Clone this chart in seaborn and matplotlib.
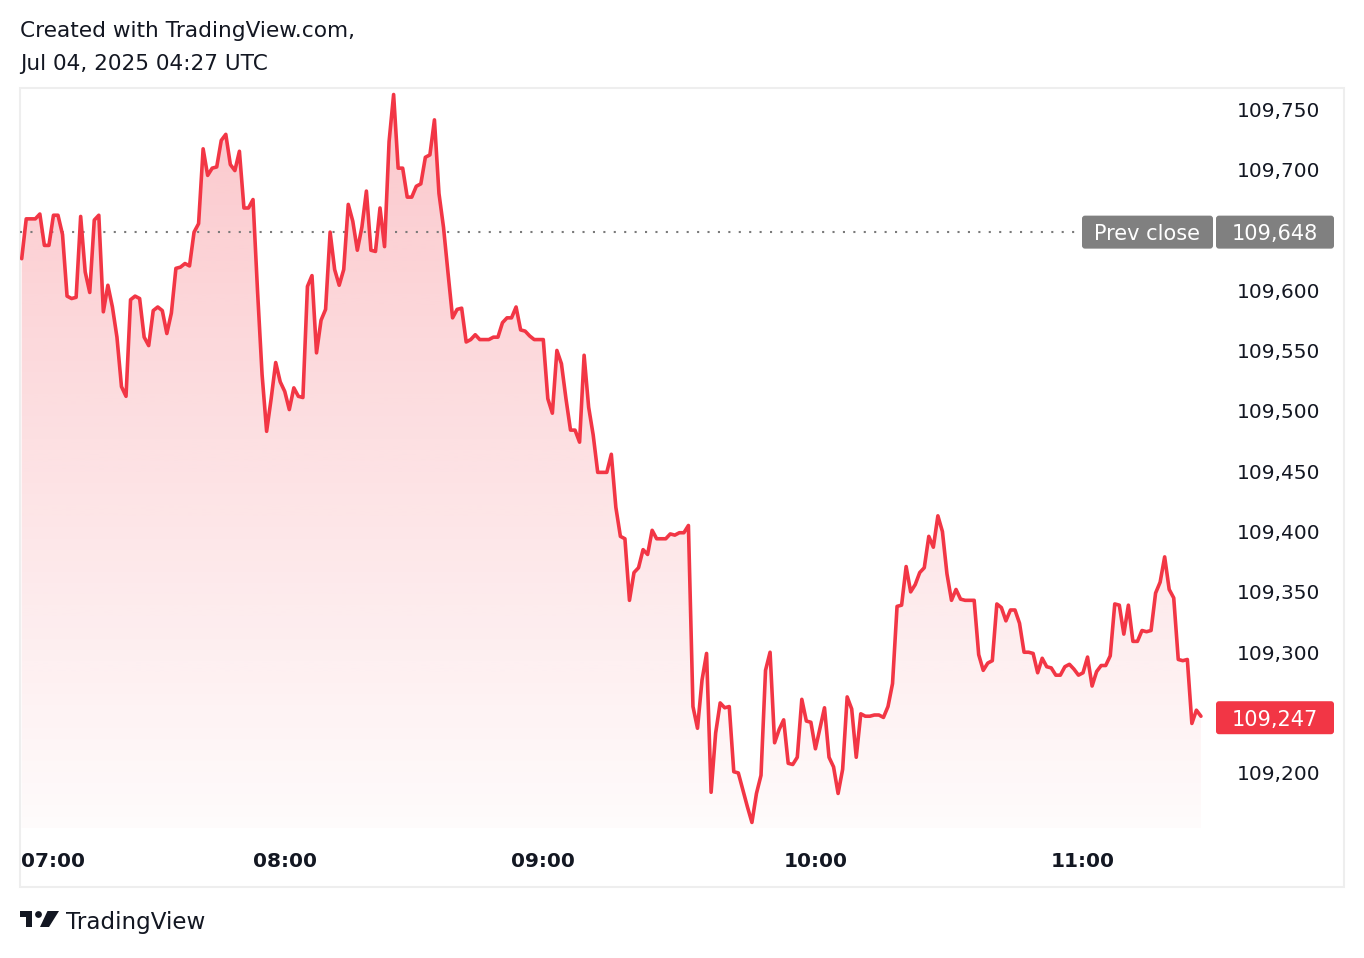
import numpy as np
import pandas as pd
import matplotlib
matplotlib.use("Agg")
import matplotlib.pyplot as plt
import seaborn as sns
from matplotlib.patches import FancyBboxPatch, Rectangle, Polygon, Circle
from matplotlib.transforms import IdentityTransform
from matplotlib.colors import to_rgb

# ---------------- data (1-minute closes) ----------------
prices = [
    109626, 109659, 109659, 109659, 109663, 109637, 109637, 109662, 109662, 109646,
    109595, 109593, 109594, 109661, 109615, 109598, 109658, 109662, 109582, 109604,
    109586, 109561, 109520, 109512, 109592, 109595, 109593, 109561, 109554, 109583,
    109586, 109583, 109564, 109581, 109618, 109619, 109622, 109620, 109648, 109655,
    109717, 109695, 109701, 109702, 109724, 109729, 109704, 109699, 109715, 109668,
    109668, 109675, 109599, 109530, 109483, 109510, 109540, 109524, 109516, 109501,
    109519, 109512, 109511, 109603, 109612, 109548, 109575, 109584, 109648, 109617,
    109604, 109617, 109671, 109657, 109633, 109652, 109682, 109633, 109632, 109668,
    109636, 109723, 109762, 109701, 109701, 109677, 109677, 109686, 109688, 109710,
    109712, 109741, 109680, 109652, 109614, 109577, 109584, 109585, 109557, 109559,
    109563, 109559, 109559, 109559, 109561, 109561, 109573, 109577, 109577, 109586,
    109567, 109566, 109562, 109559, 109559, 109559, 109510, 109498, 109550, 109539,
    109510, 109484, 109484, 109474, 109546, 109503, 109480, 109449, 109449, 109449,
    109464, 109420, 109396, 109394, 109343, 109366, 109370, 109385, 109381, 109401,
    109394, 109394, 109394, 109398, 109397, 109399, 109399, 109405, 109255, 109237,
    109277, 109299, 109184, 109233, 109258, 109254, 109255, 109201, 109200, 109186,
    109172, 109159, 109183, 109198, 109285, 109300, 109225, 109236, 109244, 109208,
    109207, 109213, 109261, 109243, 109242, 109220, 109237, 109254, 109213, 109205,
    109183, 109203, 109263, 109253, 109213, 109249, 109247, 109247, 109248, 109248,
    109246, 109255, 109274, 109338, 109339, 109371, 109350, 109356, 109366, 109370,
    109396, 109387, 109413, 109400, 109365, 109343, 109352, 109344, 109343, 109343,
    109343, 109298, 109285, 109291, 109293, 109340, 109337, 109326, 109335, 109335,
    109324, 109300, 109300, 109299, 109283, 109295, 109288, 109287, 109281, 109281,
    109288, 109290, 109286, 109281, 109283, 109296, 109272, 109284, 109289, 109289,
    109297, 109340, 109339, 109315, 109339, 109309, 109309, 109318, 109317, 109318,
    109349, 109358, 109379, 109352, 109345, 109294, 109293, 109294, 109241, 109252,
    109247,
]
time_labels = ["07:00", "08:00", "09:00", "10:00", "11:00"]
time_label_bars = [7, 58, 115, 175, 234]
price_ticks = [109200, 109300, 109350, 109400, 109450, 109500, 109550,
               109600, 109700, 109750]
prev_close = 109648
last_price = 109247
title_lines = ["Created with TradingView.com,", "Jul 04, 2025 04:27 UTC"]
prev_close_text = "Prev close"
brand_text = "TradingView"

# ---------------- styling ----------------
RED = "#F23645"
GRAY_LABEL = "#808080"
DOT_GRAY = "#7A7A7A"
TEXT = "#131722"
W, H = 1364, 958

sns.set_style("white")
plt.rcParams["font.family"] = ["DejaVu Sans"]

fig = plt.figure(figsize=(W / 100, H / 100), dpi=100)
fig.patch.set_facecolor("white")


def fx(px):
    return px / W


def fy(py):
    return 1 - py / H


# plot pane (without the price scale)
ax = fig.add_axes([fx(20), fy(828), fx(1215) - fx(20), fy(88) - fy(828)])
ax.set_facecolor("none")

df = pd.DataFrame({"bar": np.arange(len(prices)), "price": prices})

XMIN, XMAX = -0.375, 263.1
YMIN, YMAX = 109154.4, 109767.4

# gradient area fill under the line
rgb = to_rgb(RED)
grad = np.zeros((256, 1, 4))
grad[:, 0, 0], grad[:, 0, 1], grad[:, 0, 2] = rgb
grad[:, 0, 3] = np.linspace(0.28, 0.02, 256)
im = ax.imshow(grad, extent=[XMIN, XMAX, YMIN, YMAX], origin="upper",
               aspect="auto", zorder=1, interpolation="bilinear")
poly = ax.fill_between(df["bar"], df["price"], YMIN, facecolor="none",
                       edgecolor="none", zorder=1)
im.set_clip_path(poly.get_paths()[0], transform=ax.transData)

# previous close dotted line
ax.axhline(prev_close, color=DOT_GRAY, lw=1.5, linestyle=(0, (1, 4)), zorder=2)

# price line
sns.lineplot(data=df, x="bar", y="price", color=RED, linewidth=2.6, ax=ax,
             zorder=3)
for ln in ax.lines[-1:]:
    ln.set_solid_joinstyle("round")
    ln.set_solid_capstyle("round")

ax.set_xlim(XMIN, XMAX)
ax.set_ylim(YMIN, YMAX)
for s in ax.spines.values():
    s.set_visible(False)
ax.set_xlabel("")
ax.set_ylabel("")

ax.set_yticks(price_ticks)
ax.set_yticklabels([f"{v:,}" for v in price_ticks])
ax.tick_params(axis="y", left=False, right=False, labelleft=False,
               labelright=True, length=0, pad=16, labelsize=14.5,
               labelcolor=TEXT)
ax.set_xticks(time_label_bars)
ax.set_xticklabels(time_labels, fontweight="bold")
ax.tick_params(axis="x", bottom=False, length=0, pad=17, labelsize=14.5,
               labelcolor=TEXT)
ax.grid(False)

# pane border
fig.add_artist(Rectangle((20, H - 887), 1344 - 20, 887 - 88,
                         transform=IdentityTransform(), fill=False,
                         edgecolor="#EEEEEE", lw=1.5, zorder=0))

# labels on price scale
def ydisp(v):
    return ax.transData.transform((0, v))[1]


def label_box(x0, x1, yc, color, text, hh=16.5, rounding=3):
    fig.add_artist(FancyBboxPatch((x0, yc - hh), x1 - x0, 2 * hh,
                                  boxstyle=f"round,pad=0,rounding_size={rounding}",
                                  transform=IdentityTransform(),
                                  facecolor=color, edgecolor="none", zorder=5))
    fig.text((x0 + x1) / 2, yc, text, transform=IdentityTransform(),
             ha="center", va="center_baseline", color="white",
             fontsize=15, zorder=6)


yp = ydisp(prev_close)
label_box(1082, 1213, yp, GRAY_LABEL, prev_close_text)
label_box(1216, 1334, yp, GRAY_LABEL, f"{prev_close:,}")
yl = ydisp(last_price)
label_box(1216, 1334, yl - 1.5, RED, f"{last_price:,}")

# header
fig.text(fx(20), fy(31), title_lines[0], fontsize=15.6, color=TEXT,
         ha="left", va="center")
fig.text(fx(20), fy(64), title_lines[1], fontsize=15.6, color=TEXT,
         ha="left", va="center")

# TradingView logo
def P(x, y):
    return (x, H - y)


logo_kw = dict(transform=IdentityTransform(), facecolor=TEXT, edgecolor="none",
               zorder=5)
fig.add_artist(Polygon([P(20, 911), P(32, 911), P(32, 927),
                        P(26, 927), P(26, 917), P(20, 917)], closed=True,
                       **logo_kw))
fig.add_artist(Circle(P(38.5, 914.5), 3.4, **logo_kw))
fig.add_artist(Polygon([P(47.5, 911), P(59, 911), P(49, 927),
                        P(40, 927)], closed=True, **logo_kw))
fig.text(fx(66), fy(923), brand_text, fontsize=16.6, color=TEXT, ha="left",
         va="center")

fig.savefig("out.png", dpi=100, facecolor="white")
